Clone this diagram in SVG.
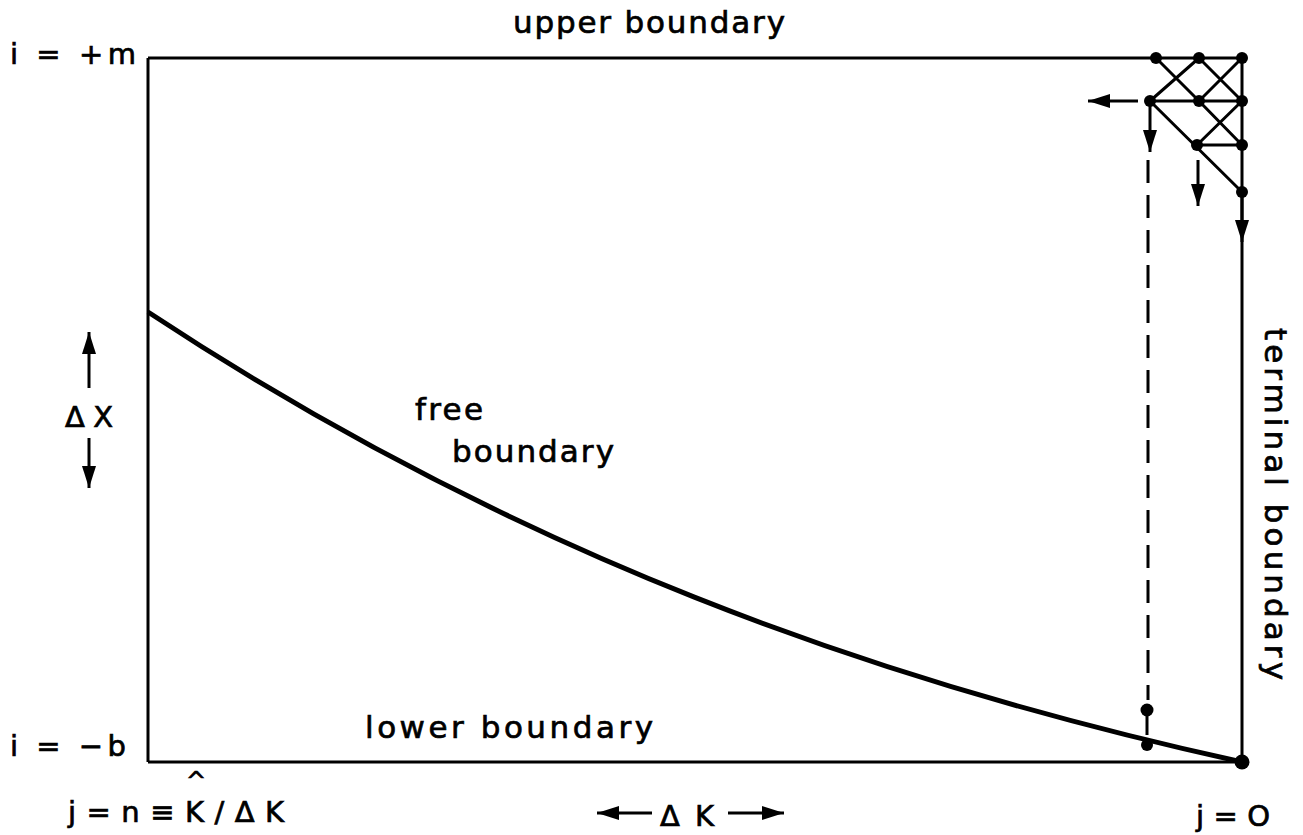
<svg xmlns="http://www.w3.org/2000/svg" width="1303" height="835" viewBox="0 0 1303 835">
<style>
text{font-family:"DejaVu Sans","Liberation Sans",sans-serif;fill:#000;stroke:#000;stroke-width:0.7}
.lbl{font-size:31px}
.sm{font-size:29px}
.thin{stroke:#000;stroke-width:3;fill:none}
.grid{stroke:#000;stroke-width:3;fill:none}
.dot{fill:#000}
</style>
<defs>
<marker id="ah" viewBox="0 0 22 14" refX="22" refY="7" markerWidth="22" markerHeight="14" markerUnits="userSpaceOnUse" orient="auto">
<path d="M0,0 L22,7 L0,14 Z" fill="#000"/>
</marker>
</defs>
<rect width="1303" height="835" fill="#fff"/>
<g id="connectors">
<path id="left-boundary" class="thin" d="M148,58 V762"/>
<path id="upper-boundary-line" class="thin" d="M148,58 H1242"/>
<path id="lower-boundary-line" class="thin" d="M148,762 H1242"/>
<path id="terminal-boundary-line" class="thin" d="M1242,58 V762"/>
<path id="free-boundary-curve" d="M148,312 C513,553 877,682 1242,762" stroke="#000" stroke-width="5" fill="none"/>
<path class="grid" d="M1150,101 H1242 M1197,145 H1242 M1156,58 L1199,101 M1199,58 L1150,101 M1199,58 L1242,101 M1242,58 L1199,101 M1150,101 L1242,192 M1199,101 L1242,145 M1242,101 L1197,145"/>
<path class="grid" d="M1138,101 H1088" marker-end="url(#ah)"/>
<path class="grid" d="M1150,101 V152" marker-end="url(#ah)"/>
<path class="grid" d="M1198,160 V206" marker-end="url(#ah)"/>
<path class="grid" d="M1242,192 V242" marker-end="url(#ah)"/>
<path class="grid" d="M1148,160 V700" stroke-dasharray="23,12"/>
<path class="grid" d="M1147,710 V735"/>
<path class="grid" d="M89,388 V332" marker-end="url(#ah)"/>
<path class="grid" d="M89,438 V488" marker-end="url(#ah)"/>
<path class="grid" d="M652,813 H597" marker-end="url(#ah)"/>
<path class="grid" d="M728,813 H784" marker-end="url(#ah)"/>
</g>
<g id="nodes">
<circle class="dot" cx="1156" cy="58" r="6"/>
<circle class="dot" cx="1199" cy="58" r="6"/>
<circle class="dot" cx="1242" cy="58" r="6"/>
<circle class="dot" cx="1150" cy="101" r="6"/>
<circle class="dot" cx="1199" cy="101" r="6"/>
<circle class="dot" cx="1242" cy="101" r="6"/>
<circle class="dot" cx="1197" cy="145" r="6"/>
<circle class="dot" cx="1242" cy="145" r="6"/>
<circle class="dot" cx="1242" cy="192" r="6"/>
<circle class="dot" cx="1147" cy="710" r="6.5"/>
<circle class="dot" cx="1147" cy="745" r="6"/>
<circle class="dot" cx="1242" cy="762" r="7.5"/>
</g>
<g id="labels">
<text id="upper-boundary" class="lbl" x="513" y="33" textLength="272" lengthAdjust="spacing">upper boundary</text>
<text id="lower-boundary" class="lbl" x="365" y="738" textLength="288" lengthAdjust="spacing">lower boundary</text>
<text id="free" class="lbl" x="415" y="420" textLength="68" lengthAdjust="spacing">free</text>
<text id="free-boundary" class="lbl" x="452" y="462" textLength="162" lengthAdjust="spacing">boundary</text>
<text id="terminal-boundary" class="lbl" transform="translate(1265,328) rotate(90)" x="0" y="0" textLength="352" lengthAdjust="spacing">terminal boundary</text>
<text id="i-m" class="sm" x="10" y="64" textLength="126" lengthAdjust="spacing">i = +m</text>
<text id="i-b" class="sm" x="10" y="756" textLength="116" lengthAdjust="spacing">i = −b</text>
<text id="dx" class="sm" x="65" y="427" textLength="48" lengthAdjust="spacing">ΔX</text>
<text id="dk" class="sm" x="660" y="826" textLength="54" lengthAdjust="spacing">ΔK</text>
<text id="j-n" class="sm" x="68" y="822" textLength="216" lengthAdjust="spacing">j=n≡K/ΔK</text>
<text id="hat" class="sm" x="186" y="789" style="font-size:24px">^</text>
<text id="j-0" class="sm" x="1196" y="826" textLength="74" lengthAdjust="spacing">j = O</text>
</g>
</svg>
